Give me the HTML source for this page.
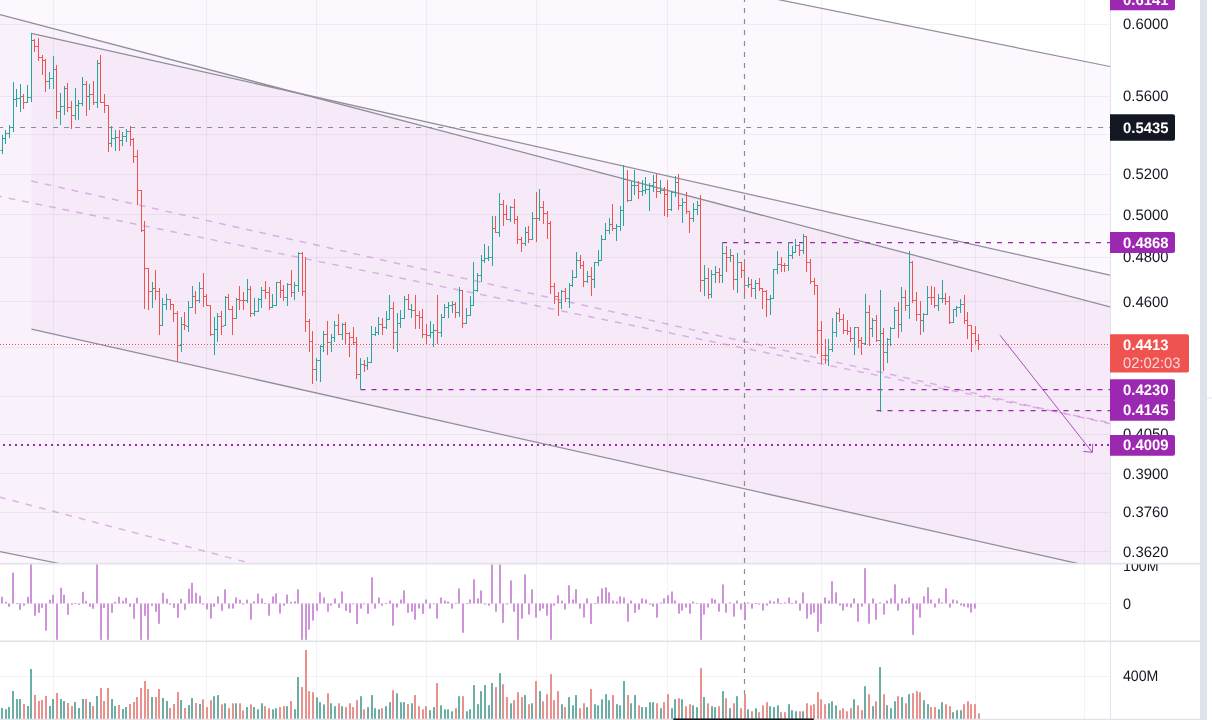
<!DOCTYPE html>
<html><head><meta charset="utf-8"><title>chart</title>
<style>html,body{margin:0;padding:0;background:#fff;overflow:hidden}body{width:1212px;height:720px;font-family:"Liberation Sans",sans-serif}</style>
</head><body>
<svg width="1212" height="720" viewBox="0 0 1212 720" style="display:block;font-family:'Liberation Sans',sans-serif">
<defs>
<clipPath id="cm"><rect x="0" y="0" width="1110.0" height="563.3000000000001"/></clipPath>
<clipPath id="co"><rect x="0" y="564.2" width="1110.0" height="76.0"/></clipPath>
<clipPath id="cv"><rect x="0" y="642" width="1110.0" height="78"/></clipPath>
</defs>
<rect width="1212" height="720" fill="#ffffff"/>
<g clip-path="url(#cm)">
<polygon points="0,-157.4 1110,66.5 1110,775.5 0,551.6" fill="rgba(156,39,176,0.032)"/>
<polygon points="0,14.6 1110,306.8 1110,1400 0,1400" fill="rgba(156,39,176,0.032)"/>
<polygon points="31.4,33.3 1110,275.2 1110,570.7 31.4,329.1" fill="rgba(156,39,176,0.032)"/>
</g>
<rect x="53" y="0" width="1" height="720" fill="rgba(50,40,70,0.06)"/>
<rect x="206" y="0" width="1" height="720" fill="rgba(50,40,70,0.06)"/>
<rect x="316" y="0" width="1" height="720" fill="rgba(50,40,70,0.06)"/>
<rect x="426" y="0" width="1" height="720" fill="rgba(50,40,70,0.06)"/>
<rect x="536" y="0" width="1" height="720" fill="rgba(50,40,70,0.06)"/>
<rect x="667" y="0" width="1" height="720" fill="rgba(50,40,70,0.06)"/>
<rect x="821" y="0" width="1" height="720" fill="rgba(50,40,70,0.06)"/>
<rect x="975" y="0" width="1" height="720" fill="rgba(50,40,70,0.06)"/>
<rect x="1084" y="0" width="1" height="720" fill="rgba(50,40,70,0.06)"/>
<rect x="0" y="24" width="1110.0" height="1" fill="rgba(50,40,70,0.06)"/>
<rect x="0" y="96" width="1110.0" height="1" fill="rgba(50,40,70,0.06)"/>
<rect x="0" y="134" width="1110.0" height="1" fill="rgba(50,40,70,0.06)"/>
<rect x="0" y="174" width="1110.0" height="1" fill="rgba(50,40,70,0.06)"/>
<rect x="0" y="214" width="1110.0" height="1" fill="rgba(50,40,70,0.06)"/>
<rect x="0" y="257" width="1110.0" height="1" fill="rgba(50,40,70,0.06)"/>
<rect x="0" y="301" width="1110.0" height="1" fill="rgba(50,40,70,0.06)"/>
<rect x="0" y="347" width="1110.0" height="1" fill="rgba(50,40,70,0.06)"/>
<rect x="0" y="396" width="1110.0" height="1" fill="rgba(50,40,70,0.06)"/>
<rect x="0" y="434" width="1110.0" height="1" fill="rgba(50,40,70,0.06)"/>
<rect x="0" y="473" width="1110.0" height="1" fill="rgba(50,40,70,0.06)"/>
<rect x="0" y="512" width="1110.0" height="1" fill="rgba(50,40,70,0.06)"/>
<rect x="0" y="551" width="1110.0" height="1" fill="rgba(50,40,70,0.06)"/>
<rect x="0" y="603" width="1110.0" height="1" fill="rgba(50,40,70,0.06)"/>
<rect x="0" y="676" width="1110.0" height="1" fill="rgba(50,40,70,0.06)"/>
<g clip-path="url(#cm)" fill="none">
<line x1="3" y1="444.9" x2="1110" y2="444.9" stroke="#9c27b0" stroke-width="2" stroke-dasharray="2 4"/>
<line x1="0" y1="-157.4" x2="1110" y2="66.5" stroke="#908e9a" stroke-width="1.2"/>
<line x1="0" y1="551.6" x2="1110" y2="775.5" stroke="#908e9a" stroke-width="1.2"/>
<line x1="0" y1="14.6" x2="1110" y2="306.8" stroke="#908e9a" stroke-width="1.3"/>
<line x1="31.4" y1="33.3" x2="1110" y2="275.2" stroke="#908e9a" stroke-width="1.3"/>
<line x1="31.4" y1="329.1" x2="1110" y2="570.7" stroke="#908e9a" stroke-width="1.3"/>
<line x1="31.4" y1="180.9" x2="1110" y2="423.8" stroke="rgba(171,71,188,0.36)" stroke-width="1.5" stroke-dasharray="6.7 7.05"/>
<line x1="0" y1="196.4" x2="1110" y2="422.8" stroke="rgba(171,71,188,0.36)" stroke-width="1.5" stroke-dasharray="6.7 7.05" stroke-dashoffset="4.9"/>
<line x1="0" y1="497.2" x2="1110" y2="790.2" stroke="rgba(171,71,188,0.36)" stroke-width="1.5" stroke-dasharray="6.7 7.05" stroke-dashoffset="1"/>
<line x1="-1.9" y1="127.5" x2="1110" y2="127.5" stroke="#8a8c96" stroke-width="1.2" stroke-dasharray="5 6"/>
<line x1="722" y1="242.5" x2="1110" y2="242.5" stroke="#9c27b0" stroke-width="1.25" stroke-dasharray="5 6"/>
<line x1="360.5" y1="389.5" x2="1110" y2="389.5" stroke="#9c27b0" stroke-width="1.25" stroke-dasharray="5 6"/>
<line x1="876.5" y1="410.5" x2="1110" y2="410.5" stroke="#9c27b0" stroke-width="1.25" stroke-dasharray="5 6"/>
<line x1="0" y1="344.5" x2="1110" y2="344.5" stroke="#ef5350" stroke-width="1" stroke-dasharray="1 2"/>
<path d="M1000 335.2 L1092.3 452.3 M1083.3 451.4 L1092.3 452.3 L1092.8 443.8" stroke="rgba(156,39,176,0.8)" stroke-width="1"/>
</g>
<g clip-path="url(#cm)">
<path d="M2.5 135V154M0.5 150.5H2.5M2.5 138.5H4.5" stroke="#26a69a" stroke-width="1" fill="none"/>
<path d="M5.5 130V144M3.5 138.5H5.5M5.5 133.5H7.5" stroke="#26a69a" stroke-width="1" fill="none"/>
<path d="M9.5 125V138M7.5 133.5H9.5M9.5 127.5H11.5" stroke="#26a69a" stroke-width="1" fill="none"/>
<path d="M13.5 82V132M11.5 127.5H13.5M13.5 99.5H15.5" stroke="#26a69a" stroke-width="1" fill="none"/>
<path d="M16.5 89V107M14.5 99.5H16.5M16.5 98.5H18.5" stroke="#26a69a" stroke-width="1" fill="none"/>
<path d="M20.5 84V112M18.5 98.5H20.5M20.5 96.5H22.5" stroke="#26a69a" stroke-width="1" fill="none"/>
<path d="M23.5 94V109M21.5 96.5H23.5M23.5 102.5H25.5" stroke="#ef5350" stroke-width="1" fill="none"/>
<path d="M27.5 85V103M25.5 102.5H27.5M27.5 97.5H29.5" stroke="#26a69a" stroke-width="1" fill="none"/>
<path d="M31.5 33V102M29.5 97.5H31.5M31.5 40.5H33.5" stroke="#26a69a" stroke-width="1" fill="none"/>
<path d="M34.5 39V52M32.5 40.5H34.5M34.5 46.5H36.5" stroke="#ef5350" stroke-width="1" fill="none"/>
<path d="M38.5 38V61M36.5 46.5H38.5M38.5 57.5H40.5" stroke="#ef5350" stroke-width="1" fill="none"/>
<path d="M42.5 55V75M40.5 57.5H42.5M42.5 60.5H44.5" stroke="#ef5350" stroke-width="1" fill="none"/>
<path d="M45.5 59V92M43.5 60.5H45.5M45.5 81.5H47.5" stroke="#ef5350" stroke-width="1" fill="none"/>
<path d="M49.5 72V89M47.5 81.5H49.5M49.5 78.5H51.5" stroke="#26a69a" stroke-width="1" fill="none"/>
<path d="M53.5 56V89M51.5 78.5H53.5M53.5 69.5H55.5" stroke="#26a69a" stroke-width="1" fill="none"/>
<path d="M56.5 65V119M54.5 69.5H56.5M56.5 111.5H58.5" stroke="#ef5350" stroke-width="1" fill="none"/>
<path d="M60.5 93V125M58.5 111.5H60.5M60.5 106.5H62.5" stroke="#26a69a" stroke-width="1" fill="none"/>
<path d="M64.5 86V115M62.5 106.5H64.5M64.5 88.5H66.5" stroke="#26a69a" stroke-width="1" fill="none"/>
<path d="M67.5 83V112M65.5 88.5H67.5M67.5 107.5H69.5" stroke="#ef5350" stroke-width="1" fill="none"/>
<path d="M71.5 101V129M69.5 107.5H71.5M71.5 115.5H73.5" stroke="#ef5350" stroke-width="1" fill="none"/>
<path d="M75.5 88V120M73.5 115.5H75.5M75.5 105.5H77.5" stroke="#26a69a" stroke-width="1" fill="none"/>
<path d="M78.5 100V120M76.5 105.5H78.5M78.5 103.5H80.5" stroke="#26a69a" stroke-width="1" fill="none"/>
<path d="M82.5 77V106M80.5 103.5H82.5M82.5 84.5H84.5" stroke="#26a69a" stroke-width="1" fill="none"/>
<path d="M86.5 81V116M84.5 84.5H86.5M86.5 96.5H88.5" stroke="#ef5350" stroke-width="1" fill="none"/>
<path d="M89.5 84V110M87.5 96.5H89.5M89.5 94.5H91.5" stroke="#26a69a" stroke-width="1" fill="none"/>
<path d="M93.5 81V105M91.5 94.5H93.5M93.5 102.5H95.5" stroke="#ef5350" stroke-width="1" fill="none"/>
<path d="M97.5 60V108M95.5 102.5H97.5M97.5 63.5H99.5" stroke="#26a69a" stroke-width="1" fill="none"/>
<path d="M100.5 55V103M98.5 63.5H100.5M100.5 102.5H102.5" stroke="#ef5350" stroke-width="1" fill="none"/>
<path d="M104.5 94V113M102.5 102.5H104.5M104.5 105.5H106.5" stroke="#ef5350" stroke-width="1" fill="none"/>
<path d="M108.5 105V152M106.5 105.5H108.5M108.5 143.5H110.5" stroke="#ef5350" stroke-width="1" fill="none"/>
<path d="M111.5 126V147M109.5 143.5H111.5M111.5 138.5H113.5" stroke="#26a69a" stroke-width="1" fill="none"/>
<path d="M115.5 130V151M113.5 138.5H115.5M115.5 137.5H117.5" stroke="#26a69a" stroke-width="1" fill="none"/>
<path d="M119.5 130V151M117.5 137.5H119.5M119.5 140.5H121.5" stroke="#ef5350" stroke-width="1" fill="none"/>
<path d="M122.5 132V146M120.5 140.5H122.5M122.5 136.5H124.5" stroke="#26a69a" stroke-width="1" fill="none"/>
<path d="M126.5 129V142M124.5 136.5H126.5M126.5 131.5H128.5" stroke="#26a69a" stroke-width="1" fill="none"/>
<path d="M130.5 126V146M128.5 131.5H130.5M130.5 139.5H132.5" stroke="#ef5350" stroke-width="1" fill="none"/>
<path d="M133.5 138V163M131.5 139.5H133.5M133.5 156.5H135.5" stroke="#ef5350" stroke-width="1" fill="none"/>
<path d="M137.5 150V205M135.5 156.5H137.5M137.5 190.5H139.5" stroke="#ef5350" stroke-width="1" fill="none"/>
<path d="M141.5 190V232M139.5 190.5H141.5M141.5 230.5H143.5" stroke="#ef5350" stroke-width="1" fill="none"/>
<path d="M144.5 221V309M142.5 230.5H144.5M144.5 268.5H146.5" stroke="#ef5350" stroke-width="1" fill="none"/>
<path d="M148.5 268V310M146.5 268.5H148.5M148.5 291.5H150.5" stroke="#ef5350" stroke-width="1" fill="none"/>
<path d="M152.5 282V308M150.5 291.5H152.5M152.5 288.5H154.5" stroke="#26a69a" stroke-width="1" fill="none"/>
<path d="M155.5 270V300M153.5 288.5H155.5M155.5 291.5H157.5" stroke="#ef5350" stroke-width="1" fill="none"/>
<path d="M159.5 288V335M157.5 291.5H159.5M159.5 325.5H161.5" stroke="#ef5350" stroke-width="1" fill="none"/>
<path d="M162.5 298V326M160.5 325.5H162.5M162.5 304.5H164.5" stroke="#26a69a" stroke-width="1" fill="none"/>
<path d="M166.5 294V310M164.5 304.5H166.5M166.5 299.5H168.5" stroke="#26a69a" stroke-width="1" fill="none"/>
<path d="M170.5 299V310M168.5 299.5H170.5M170.5 304.5H172.5" stroke="#ef5350" stroke-width="1" fill="none"/>
<path d="M173.5 304V322M171.5 304.5H173.5M173.5 313.5H175.5" stroke="#ef5350" stroke-width="1" fill="none"/>
<path d="M177.5 311V361M175.5 313.5H177.5M177.5 345.5H179.5" stroke="#ef5350" stroke-width="1" fill="none"/>
<path d="M181.5 317V352M179.5 345.5H181.5M181.5 324.5H183.5" stroke="#26a69a" stroke-width="1" fill="none"/>
<path d="M184.5 312V330M182.5 324.5H184.5M184.5 325.5H186.5" stroke="#ef5350" stroke-width="1" fill="none"/>
<path d="M188.5 301V332M186.5 326.5H188.5M188.5 307.5H190.5" stroke="#26a69a" stroke-width="1" fill="none"/>
<path d="M192.5 286V308M190.5 307.5H192.5M192.5 296.5H194.5" stroke="#26a69a" stroke-width="1" fill="none"/>
<path d="M195.5 291V314M193.5 296.5H195.5M195.5 300.5H197.5" stroke="#ef5350" stroke-width="1" fill="none"/>
<path d="M199.5 282V303M197.5 300.5H199.5M199.5 288.5H201.5" stroke="#26a69a" stroke-width="1" fill="none"/>
<path d="M203.5 273V307M201.5 288.5H203.5M203.5 296.5H205.5" stroke="#ef5350" stroke-width="1" fill="none"/>
<path d="M206.5 294V306M204.5 296.5H206.5M206.5 305.5H208.5" stroke="#ef5350" stroke-width="1" fill="none"/>
<path d="M210.5 305V336M208.5 305.5H210.5M210.5 334.5H212.5" stroke="#ef5350" stroke-width="1" fill="none"/>
<path d="M214.5 317V355M212.5 334.5H214.5M214.5 329.5H216.5" stroke="#26a69a" stroke-width="1" fill="none"/>
<path d="M217.5 313V342M215.5 329.5H217.5M217.5 316.5H219.5" stroke="#26a69a" stroke-width="1" fill="none"/>
<path d="M221.5 311V335M219.5 316.5H221.5M221.5 326.5H223.5" stroke="#ef5350" stroke-width="1" fill="none"/>
<path d="M225.5 296V326M223.5 325.5H225.5M225.5 297.5H227.5" stroke="#26a69a" stroke-width="1" fill="none"/>
<path d="M228.5 294V310M226.5 297.5H228.5M228.5 309.5H230.5" stroke="#ef5350" stroke-width="1" fill="none"/>
<path d="M232.5 306V335M230.5 309.5H232.5M232.5 318.5H234.5" stroke="#ef5350" stroke-width="1" fill="none"/>
<path d="M236.5 298V319M234.5 318.5H236.5M236.5 299.5H238.5" stroke="#26a69a" stroke-width="1" fill="none"/>
<path d="M239.5 286V310M237.5 299.5H239.5M239.5 300.5H241.5" stroke="#ef5350" stroke-width="1" fill="none"/>
<path d="M243.5 292V310M241.5 300.5H243.5M243.5 300.5H245.5" stroke="#ef5350" stroke-width="1" fill="none"/>
<path d="M247.5 279V303M245.5 300.5H247.5M247.5 289.5H249.5" stroke="#26a69a" stroke-width="1" fill="none"/>
<path d="M250.5 286V317M248.5 289.5H250.5M250.5 313.5H252.5" stroke="#ef5350" stroke-width="1" fill="none"/>
<path d="M254.5 298V316M252.5 313.5H254.5M254.5 311.5H256.5" stroke="#26a69a" stroke-width="1" fill="none"/>
<path d="M258.5 298V312M256.5 311.5H258.5M258.5 299.5H260.5" stroke="#26a69a" stroke-width="1" fill="none"/>
<path d="M261.5 287V308M259.5 299.5H261.5M261.5 290.5H263.5" stroke="#26a69a" stroke-width="1" fill="none"/>
<path d="M265.5 281V299M263.5 290.5H265.5M265.5 292.5H267.5" stroke="#ef5350" stroke-width="1" fill="none"/>
<path d="M269.5 287V310M267.5 292.5H269.5M269.5 307.5H271.5" stroke="#ef5350" stroke-width="1" fill="none"/>
<path d="M272.5 294V308M270.5 307.5H272.5M272.5 305.5H274.5" stroke="#26a69a" stroke-width="1" fill="none"/>
<path d="M276.5 282V306M274.5 305.5H276.5M276.5 282.5H278.5" stroke="#26a69a" stroke-width="1" fill="none"/>
<path d="M280.5 280V298M278.5 282.5H280.5M280.5 290.5H282.5" stroke="#ef5350" stroke-width="1" fill="none"/>
<path d="M283.5 285V301M281.5 290.5H283.5M283.5 297.5H285.5" stroke="#ef5350" stroke-width="1" fill="none"/>
<path d="M287.5 283V306M285.5 297.5H287.5M287.5 284.5H289.5" stroke="#26a69a" stroke-width="1" fill="none"/>
<path d="M291.5 270V297M289.5 284.5H291.5M291.5 292.5H293.5" stroke="#ef5350" stroke-width="1" fill="none"/>
<path d="M294.5 282V300M292.5 292.5H294.5M294.5 285.5H296.5" stroke="#26a69a" stroke-width="1" fill="none"/>
<path d="M298.5 252V292M296.5 285.5H298.5M298.5 253.5H300.5" stroke="#26a69a" stroke-width="1" fill="none"/>
<path d="M302.5 252V296M300.5 253.5H302.5M302.5 291.5H304.5" stroke="#ef5350" stroke-width="1" fill="none"/>
<path d="M305.5 257V332M303.5 291.5H305.5M305.5 321.5H307.5" stroke="#ef5350" stroke-width="1" fill="none"/>
<path d="M309.5 319V352M307.5 321.5H309.5M309.5 341.5H311.5" stroke="#ef5350" stroke-width="1" fill="none"/>
<path d="M312.5 331V384M310.5 341.5H312.5M312.5 369.5H314.5" stroke="#ef5350" stroke-width="1" fill="none"/>
<path d="M316.5 358V381M314.5 369.5H316.5M316.5 360.5H318.5" stroke="#26a69a" stroke-width="1" fill="none"/>
<path d="M320.5 345V382M318.5 360.5H320.5M320.5 346.5H322.5" stroke="#26a69a" stroke-width="1" fill="none"/>
<path d="M323.5 331V352M321.5 346.5H323.5M323.5 334.5H325.5" stroke="#26a69a" stroke-width="1" fill="none"/>
<path d="M327.5 321V355M325.5 334.5H327.5M327.5 342.5H329.5" stroke="#ef5350" stroke-width="1" fill="none"/>
<path d="M331.5 334V352M329.5 342.5H331.5M331.5 337.5H333.5" stroke="#26a69a" stroke-width="1" fill="none"/>
<path d="M334.5 321V342M332.5 337.5H334.5M334.5 325.5H336.5" stroke="#26a69a" stroke-width="1" fill="none"/>
<path d="M338.5 314V335M336.5 325.5H338.5M338.5 334.5H340.5" stroke="#ef5350" stroke-width="1" fill="none"/>
<path d="M342.5 323V340M340.5 334.5H342.5M342.5 324.5H344.5" stroke="#26a69a" stroke-width="1" fill="none"/>
<path d="M345.5 322V345M343.5 324.5H345.5M345.5 333.5H347.5" stroke="#ef5350" stroke-width="1" fill="none"/>
<path d="M349.5 332V357M347.5 333.5H349.5M349.5 337.5H351.5" stroke="#ef5350" stroke-width="1" fill="none"/>
<path d="M353.5 327V345M351.5 337.5H353.5M353.5 342.5H355.5" stroke="#ef5350" stroke-width="1" fill="none"/>
<path d="M356.5 337V379M354.5 342.5H356.5M356.5 374.5H358.5" stroke="#ef5350" stroke-width="1" fill="none"/>
<path d="M360.5 358V389M358.5 374.5H360.5M360.5 364.5H362.5" stroke="#26a69a" stroke-width="1" fill="none"/>
<path d="M364.5 360V372M362.5 364.5H364.5M364.5 365.5H366.5" stroke="#ef5350" stroke-width="1" fill="none"/>
<path d="M367.5 357V370M365.5 365.5H367.5M367.5 362.5H369.5" stroke="#26a69a" stroke-width="1" fill="none"/>
<path d="M371.5 326V363M369.5 362.5H371.5M371.5 334.5H373.5" stroke="#26a69a" stroke-width="1" fill="none"/>
<path d="M375.5 327V336M373.5 334.5H375.5M375.5 332.5H377.5" stroke="#26a69a" stroke-width="1" fill="none"/>
<path d="M378.5 317V335M376.5 332.5H378.5M378.5 324.5H380.5" stroke="#26a69a" stroke-width="1" fill="none"/>
<path d="M382.5 318V335M380.5 324.5H382.5M382.5 327.5H384.5" stroke="#ef5350" stroke-width="1" fill="none"/>
<path d="M386.5 311V329M384.5 327.5H386.5M386.5 319.5H388.5" stroke="#26a69a" stroke-width="1" fill="none"/>
<path d="M389.5 295V320M387.5 319.5H389.5M389.5 308.5H391.5" stroke="#26a69a" stroke-width="1" fill="none"/>
<path d="M393.5 302V349M391.5 308.5H393.5M393.5 332.5H395.5" stroke="#ef5350" stroke-width="1" fill="none"/>
<path d="M397.5 313V352M395.5 332.5H397.5M397.5 323.5H399.5" stroke="#26a69a" stroke-width="1" fill="none"/>
<path d="M400.5 310V328M398.5 323.5H400.5M400.5 318.5H402.5" stroke="#26a69a" stroke-width="1" fill="none"/>
<path d="M404.5 296V319M402.5 318.5H404.5M404.5 299.5H406.5" stroke="#26a69a" stroke-width="1" fill="none"/>
<path d="M408.5 294V310M406.5 299.5H408.5M408.5 309.5H410.5" stroke="#ef5350" stroke-width="1" fill="none"/>
<path d="M411.5 304V318M409.5 309.5H411.5M411.5 310.5H413.5" stroke="#26a69a" stroke-width="1" fill="none"/>
<path d="M415.5 295V329M413.5 310.5H415.5M415.5 315.5H417.5" stroke="#ef5350" stroke-width="1" fill="none"/>
<path d="M419.5 311V329M417.5 315.5H419.5M419.5 317.5H421.5" stroke="#ef5350" stroke-width="1" fill="none"/>
<path d="M422.5 309V338M420.5 317.5H422.5M422.5 334.5H424.5" stroke="#ef5350" stroke-width="1" fill="none"/>
<path d="M426.5 324V345M424.5 334.5H426.5M426.5 335.5H428.5" stroke="#ef5350" stroke-width="1" fill="none"/>
<path d="M430.5 321V338M428.5 335.5H430.5M430.5 332.5H432.5" stroke="#26a69a" stroke-width="1" fill="none"/>
<path d="M433.5 324V347M431.5 332.5H433.5M433.5 330.5H435.5" stroke="#26a69a" stroke-width="1" fill="none"/>
<path d="M437.5 295V344M435.5 330.5H437.5M437.5 332.5H439.5" stroke="#ef5350" stroke-width="1" fill="none"/>
<path d="M441.5 314V337M439.5 332.5H441.5M441.5 317.5H443.5" stroke="#26a69a" stroke-width="1" fill="none"/>
<path d="M444.5 304V318M442.5 317.5H444.5M444.5 307.5H446.5" stroke="#26a69a" stroke-width="1" fill="none"/>
<path d="M448.5 302V318M446.5 307.5H448.5M448.5 305.5H450.5" stroke="#26a69a" stroke-width="1" fill="none"/>
<path d="M452.5 301V313M450.5 305.5H452.5M452.5 304.5H454.5" stroke="#26a69a" stroke-width="1" fill="none"/>
<path d="M455.5 302V318M453.5 304.5H455.5M455.5 312.5H457.5" stroke="#ef5350" stroke-width="1" fill="none"/>
<path d="M459.5 287V317M457.5 312.5H459.5M459.5 290.5H461.5" stroke="#26a69a" stroke-width="1" fill="none"/>
<path d="M462.5 290V328M460.5 290.5H462.5M462.5 323.5H464.5" stroke="#ef5350" stroke-width="1" fill="none"/>
<path d="M466.5 308V324M464.5 323.5H466.5M466.5 315.5H468.5" stroke="#26a69a" stroke-width="1" fill="none"/>
<path d="M470.5 296V316M468.5 315.5H470.5M470.5 305.5H472.5" stroke="#26a69a" stroke-width="1" fill="none"/>
<path d="M473.5 262V306M471.5 305.5H473.5M473.5 290.5H475.5" stroke="#26a69a" stroke-width="1" fill="none"/>
<path d="M477.5 273V292M475.5 290.5H477.5M477.5 275.5H479.5" stroke="#26a69a" stroke-width="1" fill="none"/>
<path d="M481.5 255V282M479.5 275.5H481.5M481.5 260.5H483.5" stroke="#26a69a" stroke-width="1" fill="none"/>
<path d="M484.5 244V263M482.5 260.5H484.5M484.5 258.5H486.5" stroke="#26a69a" stroke-width="1" fill="none"/>
<path d="M488.5 246V261M486.5 258.5H488.5M488.5 257.5H490.5" stroke="#26a69a" stroke-width="1" fill="none"/>
<path d="M492.5 216V266M490.5 257.5H492.5M492.5 228.5H494.5" stroke="#26a69a" stroke-width="1" fill="none"/>
<path d="M495.5 216V233M493.5 228.5H495.5M495.5 232.5H497.5" stroke="#ef5350" stroke-width="1" fill="none"/>
<path d="M499.5 193V237M497.5 232.5H499.5M499.5 204.5H501.5" stroke="#26a69a" stroke-width="1" fill="none"/>
<path d="M503.5 200V226M501.5 204.5H503.5M503.5 214.5H505.5" stroke="#ef5350" stroke-width="1" fill="none"/>
<path d="M506.5 205V220M504.5 214.5H506.5M506.5 219.5H508.5" stroke="#ef5350" stroke-width="1" fill="none"/>
<path d="M510.5 206V222M508.5 219.5H510.5M510.5 207.5H512.5" stroke="#26a69a" stroke-width="1" fill="none"/>
<path d="M514.5 199V224M512.5 207.5H514.5M514.5 219.5H516.5" stroke="#ef5350" stroke-width="1" fill="none"/>
<path d="M517.5 216V244M515.5 219.5H517.5M517.5 239.5H519.5" stroke="#ef5350" stroke-width="1" fill="none"/>
<path d="M521.5 237V252M519.5 239.5H521.5M521.5 243.5H523.5" stroke="#ef5350" stroke-width="1" fill="none"/>
<path d="M525.5 227V246M523.5 243.5H525.5M525.5 232.5H527.5" stroke="#26a69a" stroke-width="1" fill="none"/>
<path d="M528.5 226V243M526.5 232.5H528.5M528.5 239.5H530.5" stroke="#ef5350" stroke-width="1" fill="none"/>
<path d="M532.5 212V240M530.5 239.5H532.5M532.5 218.5H534.5" stroke="#26a69a" stroke-width="1" fill="none"/>
<path d="M536.5 192V242M534.5 218.5H536.5M536.5 218.5H538.5" stroke="#ef5350" stroke-width="1" fill="none"/>
<path d="M539.5 189V221M537.5 218.5H539.5M539.5 207.5H541.5" stroke="#26a69a" stroke-width="1" fill="none"/>
<path d="M543.5 201V224M541.5 207.5H543.5M543.5 213.5H545.5" stroke="#ef5350" stroke-width="1" fill="none"/>
<path d="M547.5 211V239M545.5 213.5H547.5M547.5 223.5H549.5" stroke="#ef5350" stroke-width="1" fill="none"/>
<path d="M550.5 221V294M548.5 223.5H550.5M550.5 286.5H552.5" stroke="#ef5350" stroke-width="1" fill="none"/>
<path d="M554.5 283V304M552.5 286.5H554.5M554.5 296.5H556.5" stroke="#ef5350" stroke-width="1" fill="none"/>
<path d="M558.5 292V316M556.5 296.5H558.5M558.5 302.5H560.5" stroke="#ef5350" stroke-width="1" fill="none"/>
<path d="M561.5 290V309M559.5 302.5H561.5M561.5 291.5H563.5" stroke="#26a69a" stroke-width="1" fill="none"/>
<path d="M565.5 288V302M563.5 291.5H565.5M565.5 298.5H567.5" stroke="#ef5350" stroke-width="1" fill="none"/>
<path d="M569.5 283V308M567.5 298.5H569.5M569.5 285.5H571.5" stroke="#26a69a" stroke-width="1" fill="none"/>
<path d="M572.5 270V287M570.5 285.5H572.5M572.5 277.5H574.5" stroke="#26a69a" stroke-width="1" fill="none"/>
<path d="M576.5 252V278M574.5 277.5H576.5M576.5 260.5H578.5" stroke="#26a69a" stroke-width="1" fill="none"/>
<path d="M580.5 255V269M578.5 260.5H580.5M580.5 265.5H582.5" stroke="#ef5350" stroke-width="1" fill="none"/>
<path d="M583.5 261V287M581.5 265.5H583.5M583.5 281.5H585.5" stroke="#ef5350" stroke-width="1" fill="none"/>
<path d="M587.5 271V283M585.5 281.5H587.5M587.5 276.5H589.5" stroke="#26a69a" stroke-width="1" fill="none"/>
<path d="M591.5 267V296M589.5 276.5H591.5M591.5 279.5H593.5" stroke="#ef5350" stroke-width="1" fill="none"/>
<path d="M594.5 262V288M592.5 279.5H594.5M594.5 262.5H596.5" stroke="#26a69a" stroke-width="1" fill="none"/>
<path d="M598.5 250V266M596.5 262.5H598.5M598.5 260.5H600.5" stroke="#26a69a" stroke-width="1" fill="none"/>
<path d="M601.5 235V261M599.5 260.5H601.5M601.5 239.5H603.5" stroke="#26a69a" stroke-width="1" fill="none"/>
<path d="M605.5 223V240M603.5 239.5H605.5M605.5 230.5H607.5" stroke="#26a69a" stroke-width="1" fill="none"/>
<path d="M609.5 218V234M607.5 230.5H609.5M609.5 224.5H611.5" stroke="#26a69a" stroke-width="1" fill="none"/>
<path d="M612.5 204V231M610.5 224.5H612.5M612.5 228.5H614.5" stroke="#ef5350" stroke-width="1" fill="none"/>
<path d="M616.5 224V241M614.5 228.5H616.5M616.5 226.5H618.5" stroke="#26a69a" stroke-width="1" fill="none"/>
<path d="M620.5 206V231M618.5 226.5H620.5M620.5 210.5H622.5" stroke="#26a69a" stroke-width="1" fill="none"/>
<path d="M623.5 165V226M621.5 210.5H623.5M623.5 179.5H625.5" stroke="#26a69a" stroke-width="1" fill="none"/>
<path d="M627.5 170V202M625.5 179.5H627.5M627.5 200.5H629.5" stroke="#ef5350" stroke-width="1" fill="none"/>
<path d="M631.5 181V201M629.5 200.5H631.5M631.5 185.5H633.5" stroke="#26a69a" stroke-width="1" fill="none"/>
<path d="M634.5 170V195M632.5 185.5H634.5M634.5 185.5H636.5" stroke="#26a69a" stroke-width="1" fill="none"/>
<path d="M638.5 181V199M636.5 185.5H638.5M638.5 191.5H640.5" stroke="#ef5350" stroke-width="1" fill="none"/>
<path d="M642.5 180V196M640.5 191.5H642.5M642.5 190.5H644.5" stroke="#26a69a" stroke-width="1" fill="none"/>
<path d="M645.5 177V194M643.5 190.5H645.5M645.5 189.5H647.5" stroke="#26a69a" stroke-width="1" fill="none"/>
<path d="M649.5 183V211M647.5 189.5H649.5M649.5 185.5H651.5" stroke="#26a69a" stroke-width="1" fill="none"/>
<path d="M653.5 175V192M651.5 185.5H653.5M653.5 182.5H655.5" stroke="#26a69a" stroke-width="1" fill="none"/>
<path d="M656.5 174V198M654.5 182.5H656.5M656.5 191.5H658.5" stroke="#ef5350" stroke-width="1" fill="none"/>
<path d="M660.5 180V194M658.5 191.5H660.5M660.5 190.5H662.5" stroke="#26a69a" stroke-width="1" fill="none"/>
<path d="M664.5 187V216M662.5 190.5H664.5M664.5 194.5H666.5" stroke="#ef5350" stroke-width="1" fill="none"/>
<path d="M667.5 180V217M665.5 194.5H667.5M667.5 209.5H669.5" stroke="#ef5350" stroke-width="1" fill="none"/>
<path d="M671.5 191V211M669.5 209.5H671.5M671.5 192.5H673.5" stroke="#26a69a" stroke-width="1" fill="none"/>
<path d="M675.5 176V197M673.5 192.5H675.5M675.5 182.5H677.5" stroke="#26a69a" stroke-width="1" fill="none"/>
<path d="M678.5 174V210M676.5 182.5H678.5M678.5 205.5H680.5" stroke="#ef5350" stroke-width="1" fill="none"/>
<path d="M682.5 198V223M680.5 205.5H682.5M682.5 202.5H684.5" stroke="#26a69a" stroke-width="1" fill="none"/>
<path d="M686.5 192V214M684.5 202.5H686.5M686.5 211.5H688.5" stroke="#ef5350" stroke-width="1" fill="none"/>
<path d="M689.5 211V233M687.5 211.5H689.5M689.5 218.5H691.5" stroke="#ef5350" stroke-width="1" fill="none"/>
<path d="M693.5 203V222M691.5 218.5H693.5M693.5 209.5H695.5" stroke="#26a69a" stroke-width="1" fill="none"/>
<path d="M697.5 201V215M695.5 209.5H697.5M697.5 205.5H699.5" stroke="#26a69a" stroke-width="1" fill="none"/>
<path d="M700.5 195V292M698.5 205.5H700.5M700.5 280.5H702.5" stroke="#ef5350" stroke-width="1" fill="none"/>
<path d="M704.5 265V296M702.5 280.5H704.5M704.5 278.5H706.5" stroke="#26a69a" stroke-width="1" fill="none"/>
<path d="M708.5 268V299M706.5 278.5H708.5M708.5 294.5H710.5" stroke="#ef5350" stroke-width="1" fill="none"/>
<path d="M711.5 270V298M709.5 294.5H711.5M711.5 274.5H713.5" stroke="#26a69a" stroke-width="1" fill="none"/>
<path d="M715.5 266V283M713.5 274.5H715.5M715.5 272.5H717.5" stroke="#26a69a" stroke-width="1" fill="none"/>
<path d="M719.5 268V283M717.5 272.5H719.5M719.5 275.5H721.5" stroke="#ef5350" stroke-width="1" fill="none"/>
<path d="M722.5 242V283M720.5 275.5H722.5M722.5 253.5H724.5" stroke="#26a69a" stroke-width="1" fill="none"/>
<path d="M726.5 246V272M724.5 253.5H726.5M726.5 257.5H728.5" stroke="#ef5350" stroke-width="1" fill="none"/>
<path d="M730.5 249V262M728.5 257.5H730.5M730.5 255.5H732.5" stroke="#26a69a" stroke-width="1" fill="none"/>
<path d="M733.5 255V290M731.5 255.5H733.5M733.5 279.5H735.5" stroke="#ef5350" stroke-width="1" fill="none"/>
<path d="M737.5 253V293M735.5 279.5H737.5M737.5 262.5H739.5" stroke="#26a69a" stroke-width="1" fill="none"/>
<path d="M741.5 262V278M739.5 262.5H741.5M741.5 270.5H743.5" stroke="#ef5350" stroke-width="1" fill="none"/>
<path d="M744.5 259V294M742.5 270.5H744.5M744.5 285.5H746.5" stroke="#ef5350" stroke-width="1" fill="none"/>
<path d="M748.5 277V288M746.5 285.5H748.5M748.5 284.5H750.5" stroke="#26a69a" stroke-width="1" fill="none"/>
<path d="M751.5 279V297M749.5 284.5H751.5M751.5 288.5H753.5" stroke="#ef5350" stroke-width="1" fill="none"/>
<path d="M755.5 280V299M753.5 288.5H755.5M755.5 283.5H757.5" stroke="#26a69a" stroke-width="1" fill="none"/>
<path d="M759.5 278V291M757.5 283.5H759.5M759.5 288.5H761.5" stroke="#ef5350" stroke-width="1" fill="none"/>
<path d="M762.5 288V309M760.5 288.5H762.5M762.5 291.5H764.5" stroke="#ef5350" stroke-width="1" fill="none"/>
<path d="M766.5 290V317M764.5 291.5H766.5M766.5 299.5H768.5" stroke="#ef5350" stroke-width="1" fill="none"/>
<path d="M770.5 295V315M768.5 299.5H770.5M770.5 298.5H772.5" stroke="#26a69a" stroke-width="1" fill="none"/>
<path d="M773.5 269V299M771.5 298.5H773.5M773.5 269.5H775.5" stroke="#26a69a" stroke-width="1" fill="none"/>
<path d="M777.5 251V274M775.5 269.5H777.5M777.5 264.5H779.5" stroke="#26a69a" stroke-width="1" fill="none"/>
<path d="M781.5 257V272M779.5 264.5H781.5M781.5 265.5H783.5" stroke="#ef5350" stroke-width="1" fill="none"/>
<path d="M784.5 263V272M782.5 265.5H784.5M784.5 265.5H786.5" stroke="#ef5350" stroke-width="1" fill="none"/>
<path d="M788.5 242V271M786.5 265.5H788.5M788.5 255.5H790.5" stroke="#26a69a" stroke-width="1" fill="none"/>
<path d="M792.5 246V259M790.5 255.5H792.5M792.5 252.5H794.5" stroke="#26a69a" stroke-width="1" fill="none"/>
<path d="M795.5 239V253M793.5 252.5H795.5M795.5 245.5H797.5" stroke="#26a69a" stroke-width="1" fill="none"/>
<path d="M799.5 244V256M797.5 245.5H799.5M799.5 250.5H801.5" stroke="#ef5350" stroke-width="1" fill="none"/>
<path d="M803.5 234V254M801.5 250.5H803.5M803.5 236.5H805.5" stroke="#26a69a" stroke-width="1" fill="none"/>
<path d="M806.5 236V272M804.5 236.5H806.5M806.5 262.5H808.5" stroke="#ef5350" stroke-width="1" fill="none"/>
<path d="M810.5 259V284M808.5 262.5H810.5M810.5 281.5H812.5" stroke="#ef5350" stroke-width="1" fill="none"/>
<path d="M814.5 278V295M812.5 281.5H814.5M814.5 285.5H816.5" stroke="#ef5350" stroke-width="1" fill="none"/>
<path d="M817.5 285V354M815.5 285.5H817.5M817.5 330.5H819.5" stroke="#ef5350" stroke-width="1" fill="none"/>
<path d="M821.5 321V364M819.5 330.5H821.5M821.5 355.5H823.5" stroke="#ef5350" stroke-width="1" fill="none"/>
<path d="M825.5 339V364M823.5 355.5H825.5M825.5 355.5H827.5" stroke="#ef5350" stroke-width="1" fill="none"/>
<path d="M828.5 339V366M826.5 355.5H828.5M828.5 349.5H830.5" stroke="#26a69a" stroke-width="1" fill="none"/>
<path d="M832.5 318V352M830.5 349.5H832.5M832.5 332.5H834.5" stroke="#26a69a" stroke-width="1" fill="none"/>
<path d="M836.5 312V337M834.5 332.5H836.5M836.5 313.5H838.5" stroke="#26a69a" stroke-width="1" fill="none"/>
<path d="M839.5 308V322M837.5 313.5H839.5M839.5 319.5H841.5" stroke="#ef5350" stroke-width="1" fill="none"/>
<path d="M843.5 314V334M841.5 319.5H843.5M843.5 330.5H845.5" stroke="#ef5350" stroke-width="1" fill="none"/>
<path d="M847.5 320V335M845.5 330.5H847.5M847.5 331.5H849.5" stroke="#ef5350" stroke-width="1" fill="none"/>
<path d="M850.5 327V342M848.5 331.5H850.5M850.5 338.5H852.5" stroke="#ef5350" stroke-width="1" fill="none"/>
<path d="M854.5 327V355M852.5 338.5H854.5M854.5 327.5H856.5" stroke="#26a69a" stroke-width="1" fill="none"/>
<path d="M858.5 327V348M856.5 327.5H858.5M858.5 340.5H860.5" stroke="#ef5350" stroke-width="1" fill="none"/>
<path d="M861.5 337V355M859.5 340.5H861.5M861.5 343.5H863.5" stroke="#ef5350" stroke-width="1" fill="none"/>
<path d="M865.5 294V345M863.5 343.5H865.5M865.5 312.5H867.5" stroke="#26a69a" stroke-width="1" fill="none"/>
<path d="M869.5 305V346M867.5 312.5H869.5M869.5 328.5H871.5" stroke="#ef5350" stroke-width="1" fill="none"/>
<path d="M872.5 318V337M870.5 328.5H872.5M872.5 320.5H874.5" stroke="#26a69a" stroke-width="1" fill="none"/>
<path d="M876.5 315V342M874.5 320.5H876.5M876.5 340.5H878.5" stroke="#ef5350" stroke-width="1" fill="none"/>
<path d="M880.5 290V412M878.5 340.5H880.5M880.5 333.5H882.5" stroke="#26a69a" stroke-width="1" fill="none"/>
<path d="M883.5 328V371M881.5 333.5H883.5M883.5 352.5H885.5" stroke="#ef5350" stroke-width="1" fill="none"/>
<path d="M887.5 338V363M885.5 352.5H887.5M887.5 339.5H889.5" stroke="#26a69a" stroke-width="1" fill="none"/>
<path d="M890.5 327V346M888.5 339.5H890.5M890.5 328.5H892.5" stroke="#26a69a" stroke-width="1" fill="none"/>
<path d="M894.5 307V329M892.5 328.5H894.5M894.5 310.5H896.5" stroke="#26a69a" stroke-width="1" fill="none"/>
<path d="M898.5 302V338M896.5 310.5H898.5M898.5 324.5H900.5" stroke="#ef5350" stroke-width="1" fill="none"/>
<path d="M901.5 287V332M899.5 324.5H901.5M901.5 297.5H903.5" stroke="#26a69a" stroke-width="1" fill="none"/>
<path d="M905.5 290V311M903.5 297.5H905.5M905.5 305.5H907.5" stroke="#ef5350" stroke-width="1" fill="none"/>
<path d="M909.5 251V319M907.5 305.5H909.5M909.5 262.5H911.5" stroke="#26a69a" stroke-width="1" fill="none"/>
<path d="M912.5 261V303M910.5 262.5H912.5M912.5 300.5H914.5" stroke="#ef5350" stroke-width="1" fill="none"/>
<path d="M916.5 292V321M914.5 300.5H916.5M916.5 314.5H918.5" stroke="#ef5350" stroke-width="1" fill="none"/>
<path d="M920.5 301V335M918.5 314.5H920.5M920.5 320.5H922.5" stroke="#ef5350" stroke-width="1" fill="none"/>
<path d="M923.5 313V332M921.5 320.5H923.5M923.5 314.5H925.5" stroke="#26a69a" stroke-width="1" fill="none"/>
<path d="M927.5 286V315M925.5 314.5H927.5M927.5 297.5H929.5" stroke="#26a69a" stroke-width="1" fill="none"/>
<path d="M931.5 286V305M929.5 297.5H931.5M931.5 297.5H933.5" stroke="#ef5350" stroke-width="1" fill="none"/>
<path d="M934.5 287V308M932.5 297.5H934.5M934.5 305.5H936.5" stroke="#ef5350" stroke-width="1" fill="none"/>
<path d="M938.5 294V311M936.5 305.5H938.5M938.5 298.5H940.5" stroke="#26a69a" stroke-width="1" fill="none"/>
<path d="M942.5 280V303M940.5 298.5H942.5M942.5 298.5H944.5" stroke="#26a69a" stroke-width="1" fill="none"/>
<path d="M945.5 293V305M943.5 298.5H945.5M945.5 301.5H947.5" stroke="#ef5350" stroke-width="1" fill="none"/>
<path d="M949.5 296V324M947.5 301.5H949.5M949.5 322.5H951.5" stroke="#ef5350" stroke-width="1" fill="none"/>
<path d="M953.5 309V323M951.5 322.5H953.5M953.5 309.5H955.5" stroke="#26a69a" stroke-width="1" fill="none"/>
<path d="M956.5 306V317M954.5 309.5H956.5M956.5 307.5H958.5" stroke="#26a69a" stroke-width="1" fill="none"/>
<path d="M960.5 299V313M958.5 307.5H960.5M960.5 304.5H962.5" stroke="#26a69a" stroke-width="1" fill="none"/>
<path d="M964.5 295V324M962.5 304.5H964.5M964.5 320.5H966.5" stroke="#ef5350" stroke-width="1" fill="none"/>
<path d="M967.5 312V339M965.5 320.5H967.5M967.5 325.5H969.5" stroke="#ef5350" stroke-width="1" fill="none"/>
<path d="M971.5 325V352M969.5 325.5H971.5M971.5 333.5H973.5" stroke="#ef5350" stroke-width="1" fill="none"/>
<path d="M975.5 326V344M973.5 333.5H975.5M975.5 340.5H977.5" stroke="#ef5350" stroke-width="1" fill="none"/>
<path d="M978.5 334V350M976.5 340.5H978.5M978.5 344.5H980.5" stroke="#ef5350" stroke-width="1" fill="none"/>
</g>
<line x1="744.5" y1="-3" x2="744.5" y2="720" stroke="#8a8c96" stroke-width="1.2" stroke-dasharray="5 6"/>
<g clip-path="url(#co)" fill="#ce93d8">
<rect x="1" y="596.8" width="2" height="6.7"/>
<rect x="5" y="601.8" width="2" height="1.7"/>
<rect x="8" y="603.5" width="2" height="3.3"/>
<rect x="12" y="572.8" width="2" height="30.7"/>
<rect x="16" y="603.0" width="2" height="0.8"/>
<rect x="19" y="603.5" width="2" height="6.3"/>
<rect x="23" y="603.5" width="2" height="2.2"/>
<rect x="27" y="596.8" width="2" height="6.7"/>
<rect x="30" y="563.8" width="2" height="39.7"/>
<rect x="34" y="603.5" width="2" height="12.2"/>
<rect x="38" y="603.5" width="2" height="9.3"/>
<rect x="41" y="603.5" width="2" height="4.3"/>
<rect x="45" y="603.5" width="2" height="27.2"/>
<rect x="49" y="599.8" width="2" height="3.7"/>
<rect x="52" y="594.8" width="2" height="8.7"/>
<rect x="56" y="603.5" width="2" height="36.3"/>
<rect x="60" y="587.8" width="2" height="15.7"/>
<rect x="63" y="594.8" width="2" height="8.7"/>
<rect x="67" y="603.5" width="2" height="11.3"/>
<rect x="71" y="603.5" width="2" height="1.3"/>
<rect x="74" y="603.0" width="2" height="0.8"/>
<rect x="78" y="603.5" width="2" height="1.3"/>
<rect x="82" y="591.8" width="2" height="11.7"/>
<rect x="85" y="600.8" width="2" height="2.7"/>
<rect x="89" y="603.5" width="2" height="3.3"/>
<rect x="92" y="603.5" width="2" height="5.3"/>
<rect x="96" y="563.8" width="2" height="39.7"/>
<rect x="100" y="603.5" width="2" height="36.3"/>
<rect x="103" y="603.5" width="2" height="4.3"/>
<rect x="107" y="603.5" width="2" height="36.3"/>
<rect x="111" y="603.5" width="2" height="9.3"/>
<rect x="114" y="601.8" width="2" height="1.7"/>
<rect x="118" y="596.8" width="2" height="6.7"/>
<rect x="122" y="600.8" width="2" height="2.7"/>
<rect x="125" y="597.8" width="2" height="5.7"/>
<rect x="129" y="603.5" width="2" height="3.3"/>
<rect x="133" y="603.5" width="2" height="15.3"/>
<rect x="136" y="597.8" width="2" height="5.7"/>
<rect x="140" y="603.5" width="2" height="36.3"/>
<rect x="144" y="603.5" width="2" height="12.3"/>
<rect x="147" y="603.5" width="2" height="36.3"/>
<rect x="151" y="603.5" width="2" height="2.3"/>
<rect x="155" y="603.5" width="2" height="8.3"/>
<rect x="158" y="603.5" width="2" height="20.3"/>
<rect x="162" y="592.8" width="2" height="10.7"/>
<rect x="166" y="598.8" width="2" height="4.7"/>
<rect x="169" y="603.5" width="2" height="1.3"/>
<rect x="173" y="603.5" width="2" height="4.3"/>
<rect x="177" y="603.5" width="2" height="14.3"/>
<rect x="180" y="598.8" width="2" height="4.7"/>
<rect x="184" y="603.5" width="2" height="6.3"/>
<rect x="188" y="588.8" width="2" height="14.7"/>
<rect x="191" y="582.8" width="2" height="20.7"/>
<rect x="195" y="592.8" width="2" height="10.7"/>
<rect x="199" y="595.8" width="2" height="7.7"/>
<rect x="202" y="603.5" width="2" height="1.1"/>
<rect x="206" y="603.5" width="2" height="6.0"/>
<rect x="210" y="603.5" width="2" height="15.1"/>
<rect x="213" y="603.5" width="2" height="3.3"/>
<rect x="217" y="596.4" width="2" height="7.1"/>
<rect x="221" y="603.5" width="2" height="7.3"/>
<rect x="224" y="589.3" width="2" height="14.2"/>
<rect x="228" y="603.5" width="2" height="5.1"/>
<rect x="232" y="603.5" width="2" height="5.1"/>
<rect x="235" y="597.5" width="2" height="6.0"/>
<rect x="239" y="599.7" width="2" height="3.8"/>
<rect x="242" y="603.5" width="2" height="1.1"/>
<rect x="246" y="599.7" width="2" height="3.8"/>
<rect x="250" y="603.5" width="2" height="16.2"/>
<rect x="253" y="601.3" width="2" height="2.2"/>
<rect x="257" y="593.5" width="2" height="10.0"/>
<rect x="261" y="598.4" width="2" height="5.1"/>
<rect x="264" y="603.1" width="2" height="0.8"/>
<rect x="268" y="603.5" width="2" height="12.2"/>
<rect x="272" y="596.4" width="2" height="7.1"/>
<rect x="275" y="593.5" width="2" height="10.0"/>
<rect x="279" y="603.5" width="2" height="10.0"/>
<rect x="283" y="603.5" width="2" height="2.2"/>
<rect x="286" y="594.6" width="2" height="8.9"/>
<rect x="290" y="601.9" width="2" height="1.6"/>
<rect x="294" y="601.3" width="2" height="2.2"/>
<rect x="297" y="589.3" width="2" height="14.2"/>
<rect x="301" y="603.5" width="2" height="36.3"/>
<rect x="305" y="603.5" width="2" height="36.3"/>
<rect x="308" y="603.5" width="2" height="26.2"/>
<rect x="312" y="603.5" width="2" height="17.1"/>
<rect x="316" y="603.5" width="2" height="7.3"/>
<rect x="319" y="592.4" width="2" height="11.1"/>
<rect x="323" y="597.5" width="2" height="6.0"/>
<rect x="327" y="603.5" width="2" height="8.2"/>
<rect x="330" y="603.5" width="2" height="2.2"/>
<rect x="334" y="598.4" width="2" height="5.1"/>
<rect x="338" y="603.5" width="2" height="4.4"/>
<rect x="341" y="591.5" width="2" height="12.0"/>
<rect x="345" y="603.5" width="2" height="7.3"/>
<rect x="349" y="603.5" width="2" height="9.3"/>
<rect x="352" y="603.5" width="2" height="0.8"/>
<rect x="356" y="603.5" width="2" height="20.4"/>
<rect x="360" y="603.5" width="2" height="5.1"/>
<rect x="363" y="603.5" width="2" height="0.8"/>
<rect x="367" y="603.5" width="2" height="10.4"/>
<rect x="371" y="577.3" width="2" height="26.2"/>
<rect x="374" y="603.5" width="2" height="5.1"/>
<rect x="378" y="597.5" width="2" height="6.0"/>
<rect x="381" y="603.5" width="2" height="2.2"/>
<rect x="385" y="603.1" width="2" height="0.8"/>
<rect x="389" y="600.6" width="2" height="2.9"/>
<rect x="392" y="603.5" width="2" height="22.2"/>
<rect x="396" y="603.5" width="2" height="4.0"/>
<rect x="400" y="599.5" width="2" height="4.0"/>
<rect x="403" y="590.4" width="2" height="13.1"/>
<rect x="407" y="603.5" width="2" height="9.3"/>
<rect x="411" y="603.5" width="2" height="8.2"/>
<rect x="414" y="603.5" width="2" height="16.2"/>
<rect x="418" y="603.5" width="2" height="5.1"/>
<rect x="422" y="603.5" width="2" height="10.4"/>
<rect x="425" y="599.5" width="2" height="4.0"/>
<rect x="429" y="603.5" width="2" height="5.1"/>
<rect x="433" y="603.5" width="2" height="0.8"/>
<rect x="436" y="603.5" width="2" height="15.1"/>
<rect x="440" y="597.5" width="2" height="6.0"/>
<rect x="444" y="600.6" width="2" height="2.9"/>
<rect x="447" y="601.5" width="2" height="2.0"/>
<rect x="451" y="603.5" width="2" height="5.1"/>
<rect x="455" y="603.1" width="2" height="0.8"/>
<rect x="458" y="588.4" width="2" height="15.1"/>
<rect x="462" y="603.5" width="2" height="29.3"/>
<rect x="466" y="603.1" width="2" height="0.8"/>
<rect x="469" y="599.5" width="2" height="4.0"/>
<rect x="473" y="579.3" width="2" height="24.2"/>
<rect x="477" y="598.4" width="2" height="5.1"/>
<rect x="480" y="590.4" width="2" height="13.1"/>
<rect x="484" y="603.5" width="2" height="1.1"/>
<rect x="488" y="603.5" width="2" height="2.2"/>
<rect x="491" y="563.8" width="2" height="39.7"/>
<rect x="495" y="603.5" width="2" height="8.2"/>
<rect x="499" y="563.8" width="2" height="39.7"/>
<rect x="502" y="603.5" width="2" height="19.3"/>
<rect x="506" y="603.5" width="2" height="1.1"/>
<rect x="510" y="580.4" width="2" height="23.1"/>
<rect x="513" y="603.5" width="2" height="8.2"/>
<rect x="517" y="603.5" width="2" height="36.3"/>
<rect x="521" y="603.5" width="2" height="15.1"/>
<rect x="524" y="574.4" width="2" height="29.1"/>
<rect x="528" y="603.5" width="2" height="11.1"/>
<rect x="531" y="589.3" width="2" height="14.2"/>
<rect x="535" y="603.5" width="2" height="14.0"/>
<rect x="539" y="603.5" width="2" height="7.3"/>
<rect x="542" y="603.5" width="2" height="5.1"/>
<rect x="546" y="603.5" width="2" height="12.2"/>
<rect x="550" y="603.5" width="2" height="36.3"/>
<rect x="553" y="603.5" width="2" height="2.2"/>
<rect x="557" y="595.3" width="2" height="8.2"/>
<rect x="561" y="600.6" width="2" height="2.9"/>
<rect x="564" y="603.5" width="2" height="6.0"/>
<rect x="568" y="585.3" width="2" height="18.2"/>
<rect x="572" y="599.5" width="2" height="4.0"/>
<rect x="575" y="589.3" width="2" height="14.2"/>
<rect x="579" y="603.5" width="2" height="5.1"/>
<rect x="583" y="603.5" width="2" height="14.0"/>
<rect x="586" y="598.4" width="2" height="5.1"/>
<rect x="590" y="603.5" width="2" height="20.4"/>
<rect x="594" y="603.0" width="2" height="0.8"/>
<rect x="597" y="596.4" width="2" height="7.1"/>
<rect x="601" y="588.4" width="2" height="15.1"/>
<rect x="605" y="587.3" width="2" height="16.2"/>
<rect x="608" y="592.4" width="2" height="11.1"/>
<rect x="612" y="600.6" width="2" height="2.9"/>
<rect x="616" y="601.5" width="2" height="2.0"/>
<rect x="619" y="596.4" width="2" height="7.1"/>
<rect x="623" y="597.5" width="2" height="6.0"/>
<rect x="627" y="603.5" width="2" height="18.2"/>
<rect x="630" y="600.6" width="2" height="2.9"/>
<rect x="634" y="603.5" width="2" height="9.3"/>
<rect x="638" y="603.5" width="2" height="6.2"/>
<rect x="641" y="598.4" width="2" height="5.1"/>
<rect x="645" y="599.5" width="2" height="4.0"/>
<rect x="649" y="603.5" width="2" height="1.1"/>
<rect x="652" y="603.5" width="2" height="3.1"/>
<rect x="656" y="603.5" width="2" height="14.2"/>
<rect x="660" y="602.4" width="2" height="1.1"/>
<rect x="663" y="598.4" width="2" height="5.1"/>
<rect x="667" y="595.3" width="2" height="8.2"/>
<rect x="671" y="591.5" width="2" height="12.0"/>
<rect x="674" y="600.6" width="2" height="2.9"/>
<rect x="678" y="603.5" width="2" height="10.2"/>
<rect x="681" y="603.5" width="2" height="7.1"/>
<rect x="685" y="603.5" width="2" height="4.0"/>
<rect x="689" y="603.5" width="2" height="10.2"/>
<rect x="692" y="601.5" width="2" height="2.0"/>
<rect x="696" y="603.1" width="2" height="0.8"/>
<rect x="700" y="603.5" width="2" height="36.3"/>
<rect x="703" y="603.5" width="2" height="11.1"/>
<rect x="707" y="603.5" width="2" height="4.0"/>
<rect x="711" y="598.4" width="2" height="5.1"/>
<rect x="714" y="599.5" width="2" height="4.0"/>
<rect x="718" y="603.5" width="2" height="8.2"/>
<rect x="722" y="584.4" width="2" height="19.1"/>
<rect x="725" y="603.5" width="2" height="9.1"/>
<rect x="729" y="602.4" width="2" height="1.1"/>
<rect x="733" y="603.5" width="2" height="13.1"/>
<rect x="736" y="600.6" width="2" height="2.9"/>
<rect x="740" y="603.5" width="2" height="6.2"/>
<rect x="744" y="603.5" width="2" height="16.7"/>
<rect x="747" y="602.4" width="2" height="1.1"/>
<rect x="751" y="603.5" width="2" height="5.1"/>
<rect x="755" y="603.1" width="2" height="0.8"/>
<rect x="758" y="603.5" width="2" height="1.1"/>
<rect x="762" y="603.5" width="2" height="7.1"/>
<rect x="766" y="603.5" width="2" height="2.0"/>
<rect x="769" y="600.6" width="2" height="2.9"/>
<rect x="773" y="601.5" width="2" height="2.0"/>
<rect x="777" y="598.4" width="2" height="5.1"/>
<rect x="780" y="603.1" width="2" height="0.8"/>
<rect x="784" y="602.4" width="2" height="1.1"/>
<rect x="788" y="597.5" width="2" height="6.0"/>
<rect x="791" y="603.1" width="2" height="0.8"/>
<rect x="795" y="600.6" width="2" height="2.9"/>
<rect x="799" y="603.5" width="2" height="7.1"/>
<rect x="802" y="592.4" width="2" height="11.1"/>
<rect x="806" y="603.5" width="2" height="15.1"/>
<rect x="810" y="603.5" width="2" height="11.1"/>
<rect x="813" y="603.5" width="2" height="9.1"/>
<rect x="817" y="603.5" width="2" height="28.2"/>
<rect x="820" y="603.5" width="2" height="20.2"/>
<rect x="824" y="597.5" width="2" height="6.0"/>
<rect x="828" y="600.6" width="2" height="2.9"/>
<rect x="831" y="581.3" width="2" height="22.2"/>
<rect x="835" y="592.4" width="2" height="11.1"/>
<rect x="839" y="603.5" width="2" height="2.0"/>
<rect x="842" y="603.5" width="2" height="7.1"/>
<rect x="846" y="603.5" width="2" height="3.1"/>
<rect x="850" y="603.5" width="2" height="4.0"/>
<rect x="853" y="598.4" width="2" height="5.1"/>
<rect x="857" y="603.5" width="2" height="18.2"/>
<rect x="861" y="603.5" width="2" height="3.1"/>
<rect x="864" y="568.2" width="2" height="35.3"/>
<rect x="868" y="603.5" width="2" height="20.2"/>
<rect x="872" y="598.4" width="2" height="5.1"/>
<rect x="875" y="603.5" width="2" height="16.2"/>
<rect x="879" y="602.4" width="2" height="1.1"/>
<rect x="883" y="603.5" width="2" height="11.1"/>
<rect x="886" y="600.6" width="2" height="2.9"/>
<rect x="890" y="598.4" width="2" height="5.1"/>
<rect x="894" y="584.4" width="2" height="19.1"/>
<rect x="897" y="603.5" width="2" height="7.1"/>
<rect x="901" y="598.4" width="2" height="5.1"/>
<rect x="905" y="600.6" width="2" height="2.9"/>
<rect x="908" y="597.5" width="2" height="6.0"/>
<rect x="912" y="603.5" width="2" height="31.3"/>
<rect x="916" y="603.5" width="2" height="6.0"/>
<rect x="919" y="603.5" width="2" height="14.2"/>
<rect x="923" y="596.4" width="2" height="7.1"/>
<rect x="927" y="587.3" width="2" height="16.2"/>
<rect x="930" y="599.5" width="2" height="4.0"/>
<rect x="934" y="603.5" width="2" height="4.0"/>
<rect x="938" y="598.4" width="2" height="5.1"/>
<rect x="941" y="602.4" width="2" height="1.1"/>
<rect x="945" y="588.4" width="2" height="15.1"/>
<rect x="949" y="603.5" width="2" height="4.0"/>
<rect x="952" y="599.5" width="2" height="4.0"/>
<rect x="956" y="600.6" width="2" height="2.9"/>
<rect x="960" y="603.5" width="2" height="2.0"/>
<rect x="963" y="603.5" width="2" height="3.1"/>
<rect x="967" y="603.5" width="2" height="4.0"/>
<rect x="970" y="603.5" width="2" height="9.1"/>
<rect x="974" y="603.5" width="2" height="5.1"/>
</g>
<g clip-path="url(#cv)">
<rect x="1" y="708.0" width="2" height="12.0" fill="#6aaea6"/>
<rect x="5" y="709.2" width="2" height="10.8" fill="#6aaea6"/>
<rect x="8" y="707.0" width="2" height="13.0" fill="#6aaea6"/>
<rect x="12" y="691.0" width="2" height="29.0" fill="#6aaea6"/>
<rect x="16" y="699.0" width="2" height="21.0" fill="#6aaea6"/>
<rect x="19" y="699.0" width="2" height="21.0" fill="#6aaea6"/>
<rect x="23" y="704.0" width="2" height="16.0" fill="#e8918d"/>
<rect x="27" y="706.0" width="2" height="14.0" fill="#6aaea6"/>
<rect x="30" y="669.0" width="2" height="51.0" fill="#6aaea6"/>
<rect x="34" y="695.0" width="2" height="25.0" fill="#e8918d"/>
<rect x="38" y="701.0" width="2" height="19.0" fill="#e8918d"/>
<rect x="41" y="700.0" width="2" height="20.0" fill="#e8918d"/>
<rect x="45" y="696.0" width="2" height="24.0" fill="#e8918d"/>
<rect x="49" y="706.0" width="2" height="14.0" fill="#6aaea6"/>
<rect x="52" y="699.0" width="2" height="21.0" fill="#6aaea6"/>
<rect x="56" y="693.0" width="2" height="27.0" fill="#e8918d"/>
<rect x="60" y="699.0" width="2" height="21.0" fill="#6aaea6"/>
<rect x="63" y="701.0" width="2" height="19.0" fill="#6aaea6"/>
<rect x="67" y="703.0" width="2" height="17.0" fill="#e8918d"/>
<rect x="71" y="706.0" width="2" height="14.0" fill="#e8918d"/>
<rect x="74" y="702.0" width="2" height="18.0" fill="#6aaea6"/>
<rect x="78" y="708.0" width="2" height="12.0" fill="#6aaea6"/>
<rect x="82" y="699.0" width="2" height="21.0" fill="#6aaea6"/>
<rect x="85" y="699.0" width="2" height="21.0" fill="#e8918d"/>
<rect x="89" y="702.0" width="2" height="18.0" fill="#6aaea6"/>
<rect x="92" y="706.0" width="2" height="14.0" fill="#e8918d"/>
<rect x="96" y="696.0" width="2" height="24.0" fill="#6aaea6"/>
<rect x="100" y="688.0" width="2" height="32.0" fill="#e8918d"/>
<rect x="103" y="701.0" width="2" height="19.0" fill="#e8918d"/>
<rect x="107" y="688.0" width="2" height="32.0" fill="#e8918d"/>
<rect x="111" y="699.0" width="2" height="21.0" fill="#6aaea6"/>
<rect x="114" y="706.0" width="2" height="14.0" fill="#6aaea6"/>
<rect x="118" y="705.0" width="2" height="15.0" fill="#e8918d"/>
<rect x="122" y="709.0" width="2" height="11.0" fill="#6aaea6"/>
<rect x="125" y="707.0" width="2" height="13.0" fill="#6aaea6"/>
<rect x="129" y="704.0" width="2" height="16.0" fill="#e8918d"/>
<rect x="133" y="702.0" width="2" height="18.0" fill="#e8918d"/>
<rect x="136" y="697.0" width="2" height="23.0" fill="#e8918d"/>
<rect x="140" y="688.0" width="2" height="32.0" fill="#e8918d"/>
<rect x="144" y="681.0" width="2" height="39.0" fill="#e8918d"/>
<rect x="147" y="689.0" width="2" height="31.0" fill="#e8918d"/>
<rect x="151" y="697.0" width="2" height="23.0" fill="#6aaea6"/>
<rect x="155" y="697.0" width="2" height="23.0" fill="#e8918d"/>
<rect x="158" y="689.0" width="2" height="31.0" fill="#e8918d"/>
<rect x="162" y="698.0" width="2" height="22.0" fill="#6aaea6"/>
<rect x="166" y="701.0" width="2" height="19.0" fill="#6aaea6"/>
<rect x="169" y="708.0" width="2" height="12.0" fill="#e8918d"/>
<rect x="173" y="704.0" width="2" height="16.0" fill="#e8918d"/>
<rect x="177" y="692.0" width="2" height="28.0" fill="#e8918d"/>
<rect x="180" y="700.0" width="2" height="20.0" fill="#6aaea6"/>
<rect x="184" y="708.0" width="2" height="12.0" fill="#e8918d"/>
<rect x="188" y="705.0" width="2" height="15.0" fill="#6aaea6"/>
<rect x="191" y="698.0" width="2" height="22.0" fill="#6aaea6"/>
<rect x="195" y="703.0" width="2" height="17.0" fill="#e8918d"/>
<rect x="199" y="704.0" width="2" height="16.0" fill="#6aaea6"/>
<rect x="202" y="699.3" width="2" height="20.7" fill="#e8918d"/>
<rect x="206" y="707.1" width="2" height="12.9" fill="#e8918d"/>
<rect x="210" y="700.2" width="2" height="19.8" fill="#e8918d"/>
<rect x="213" y="696.2" width="2" height="23.8" fill="#6aaea6"/>
<rect x="217" y="695.1" width="2" height="24.9" fill="#6aaea6"/>
<rect x="221" y="704.4" width="2" height="15.6" fill="#e8918d"/>
<rect x="224" y="703.3" width="2" height="16.7" fill="#6aaea6"/>
<rect x="228" y="708.2" width="2" height="11.8" fill="#e8918d"/>
<rect x="232" y="703.3" width="2" height="16.7" fill="#e8918d"/>
<rect x="235" y="703.3" width="2" height="16.7" fill="#6aaea6"/>
<rect x="239" y="703.3" width="2" height="16.7" fill="#e8918d"/>
<rect x="242" y="710.4" width="2" height="9.6" fill="#e8918d"/>
<rect x="246" y="707.1" width="2" height="12.9" fill="#6aaea6"/>
<rect x="250" y="704.4" width="2" height="15.6" fill="#e8918d"/>
<rect x="253" y="707.1" width="2" height="12.9" fill="#6aaea6"/>
<rect x="257" y="709.3" width="2" height="10.7" fill="#6aaea6"/>
<rect x="261" y="703.3" width="2" height="16.7" fill="#6aaea6"/>
<rect x="264" y="706.2" width="2" height="13.8" fill="#e8918d"/>
<rect x="268" y="708.2" width="2" height="11.8" fill="#e8918d"/>
<rect x="272" y="709.3" width="2" height="10.7" fill="#6aaea6"/>
<rect x="275" y="708.2" width="2" height="11.8" fill="#6aaea6"/>
<rect x="279" y="707.1" width="2" height="12.9" fill="#e8918d"/>
<rect x="283" y="706.2" width="2" height="13.8" fill="#e8918d"/>
<rect x="286" y="706.2" width="2" height="13.8" fill="#6aaea6"/>
<rect x="290" y="701.1" width="2" height="18.9" fill="#e8918d"/>
<rect x="294" y="709.3" width="2" height="10.7" fill="#6aaea6"/>
<rect x="297" y="677.1" width="2" height="42.9" fill="#6aaea6"/>
<rect x="301" y="687.1" width="2" height="32.9" fill="#e8918d"/>
<rect x="305" y="650.0" width="2" height="70.0" fill="#e8918d"/>
<rect x="308" y="691.1" width="2" height="28.9" fill="#e8918d"/>
<rect x="312" y="692.2" width="2" height="27.8" fill="#e8918d"/>
<rect x="316" y="697.3" width="2" height="22.7" fill="#6aaea6"/>
<rect x="319" y="702.2" width="2" height="17.8" fill="#6aaea6"/>
<rect x="323" y="704.4" width="2" height="15.6" fill="#6aaea6"/>
<rect x="327" y="693.3" width="2" height="26.7" fill="#e8918d"/>
<rect x="330" y="703.3" width="2" height="16.7" fill="#6aaea6"/>
<rect x="334" y="706.2" width="2" height="13.8" fill="#6aaea6"/>
<rect x="338" y="703.3" width="2" height="16.7" fill="#e8918d"/>
<rect x="341" y="706.2" width="2" height="13.8" fill="#6aaea6"/>
<rect x="345" y="707.1" width="2" height="12.9" fill="#e8918d"/>
<rect x="349" y="703.3" width="2" height="16.7" fill="#e8918d"/>
<rect x="352" y="707.1" width="2" height="12.9" fill="#e8918d"/>
<rect x="356" y="700.2" width="2" height="19.8" fill="#e8918d"/>
<rect x="360" y="696.2" width="2" height="23.8" fill="#6aaea6"/>
<rect x="363" y="709.3" width="2" height="10.7" fill="#e8918d"/>
<rect x="367" y="707.1" width="2" height="12.9" fill="#6aaea6"/>
<rect x="371" y="695.1" width="2" height="24.9" fill="#6aaea6"/>
<rect x="374" y="708.2" width="2" height="11.8" fill="#6aaea6"/>
<rect x="378" y="709.3" width="2" height="10.7" fill="#6aaea6"/>
<rect x="381" y="708.2" width="2" height="11.8" fill="#e8918d"/>
<rect x="385" y="706.2" width="2" height="13.8" fill="#6aaea6"/>
<rect x="389" y="702.2" width="2" height="17.8" fill="#6aaea6"/>
<rect x="392" y="690.2" width="2" height="29.8" fill="#e8918d"/>
<rect x="396" y="693.3" width="2" height="26.7" fill="#6aaea6"/>
<rect x="400" y="702.2" width="2" height="17.8" fill="#6aaea6"/>
<rect x="403" y="702.2" width="2" height="17.8" fill="#6aaea6"/>
<rect x="407" y="704.0" width="2" height="16.0" fill="#e8918d"/>
<rect x="411" y="703.3" width="2" height="16.7" fill="#6aaea6"/>
<rect x="414" y="695.1" width="2" height="24.9" fill="#e8918d"/>
<rect x="418" y="706.2" width="2" height="13.8" fill="#e8918d"/>
<rect x="422" y="709.3" width="2" height="10.7" fill="#e8918d"/>
<rect x="425" y="706.2" width="2" height="13.8" fill="#e8918d"/>
<rect x="429" y="710.2" width="2" height="9.8" fill="#6aaea6"/>
<rect x="433" y="707.1" width="2" height="12.9" fill="#6aaea6"/>
<rect x="436" y="683.1" width="2" height="36.9" fill="#e8918d"/>
<rect x="440" y="705.3" width="2" height="14.7" fill="#6aaea6"/>
<rect x="444" y="709.3" width="2" height="10.7" fill="#6aaea6"/>
<rect x="447" y="709.3" width="2" height="10.7" fill="#6aaea6"/>
<rect x="451" y="711.3" width="2" height="8.7" fill="#6aaea6"/>
<rect x="455" y="708.2" width="2" height="11.8" fill="#e8918d"/>
<rect x="458" y="696.2" width="2" height="23.8" fill="#6aaea6"/>
<rect x="462" y="696.2" width="2" height="23.8" fill="#e8918d"/>
<rect x="466" y="711.3" width="2" height="8.7" fill="#6aaea6"/>
<rect x="469" y="709.3" width="2" height="10.7" fill="#6aaea6"/>
<rect x="473" y="685.1" width="2" height="34.9" fill="#6aaea6"/>
<rect x="477" y="704.2" width="2" height="15.8" fill="#6aaea6"/>
<rect x="480" y="691.1" width="2" height="28.9" fill="#6aaea6"/>
<rect x="484" y="685.1" width="2" height="34.9" fill="#6aaea6"/>
<rect x="488" y="705.3" width="2" height="14.7" fill="#6aaea6"/>
<rect x="491" y="683.1" width="2" height="36.9" fill="#6aaea6"/>
<rect x="495" y="687.1" width="2" height="32.9" fill="#e8918d"/>
<rect x="499" y="673.1" width="2" height="46.9" fill="#6aaea6"/>
<rect x="502" y="684.2" width="2" height="35.8" fill="#e8918d"/>
<rect x="506" y="697.1" width="2" height="22.9" fill="#e8918d"/>
<rect x="510" y="703.3" width="2" height="16.7" fill="#6aaea6"/>
<rect x="513" y="700.2" width="2" height="19.8" fill="#e8918d"/>
<rect x="517" y="692.2" width="2" height="27.8" fill="#e8918d"/>
<rect x="521" y="697.1" width="2" height="22.9" fill="#e8918d"/>
<rect x="524" y="695.1" width="2" height="24.9" fill="#6aaea6"/>
<rect x="528" y="704.2" width="2" height="15.8" fill="#e8918d"/>
<rect x="531" y="703.3" width="2" height="16.7" fill="#6aaea6"/>
<rect x="535" y="681.1" width="2" height="38.9" fill="#e8918d"/>
<rect x="539" y="691.1" width="2" height="28.9" fill="#6aaea6"/>
<rect x="542" y="701.3" width="2" height="18.7" fill="#e8918d"/>
<rect x="546" y="694.2" width="2" height="25.8" fill="#e8918d"/>
<rect x="550" y="674.2" width="2" height="45.8" fill="#e8918d"/>
<rect x="553" y="700.2" width="2" height="19.8" fill="#e8918d"/>
<rect x="557" y="691.1" width="2" height="28.9" fill="#e8918d"/>
<rect x="561" y="704.2" width="2" height="15.8" fill="#6aaea6"/>
<rect x="564" y="707.1" width="2" height="12.9" fill="#e8918d"/>
<rect x="568" y="697.1" width="2" height="22.9" fill="#6aaea6"/>
<rect x="572" y="705.3" width="2" height="14.7" fill="#6aaea6"/>
<rect x="575" y="695.1" width="2" height="24.9" fill="#6aaea6"/>
<rect x="579" y="708.2" width="2" height="11.8" fill="#e8918d"/>
<rect x="583" y="703.3" width="2" height="16.7" fill="#e8918d"/>
<rect x="586" y="707.1" width="2" height="12.9" fill="#6aaea6"/>
<rect x="590" y="689.1" width="2" height="30.9" fill="#e8918d"/>
<rect x="594" y="704.2" width="2" height="15.8" fill="#6aaea6"/>
<rect x="597" y="705.3" width="2" height="14.7" fill="#6aaea6"/>
<rect x="601" y="699.3" width="2" height="20.7" fill="#6aaea6"/>
<rect x="605" y="694.2" width="2" height="25.8" fill="#6aaea6"/>
<rect x="608" y="700.2" width="2" height="19.8" fill="#6aaea6"/>
<rect x="612" y="695.1" width="2" height="24.9" fill="#e8918d"/>
<rect x="616" y="704.2" width="2" height="15.8" fill="#6aaea6"/>
<rect x="619" y="705.3" width="2" height="14.7" fill="#6aaea6"/>
<rect x="623" y="681.1" width="2" height="38.9" fill="#6aaea6"/>
<rect x="627" y="695.1" width="2" height="24.9" fill="#e8918d"/>
<rect x="630" y="703.3" width="2" height="16.7" fill="#6aaea6"/>
<rect x="634" y="695.1" width="2" height="24.9" fill="#6aaea6"/>
<rect x="638" y="705.3" width="2" height="14.7" fill="#e8918d"/>
<rect x="641" y="707.1" width="2" height="12.9" fill="#6aaea6"/>
<rect x="645" y="707.1" width="2" height="12.9" fill="#6aaea6"/>
<rect x="649" y="702.2" width="2" height="17.8" fill="#6aaea6"/>
<rect x="652" y="702.2" width="2" height="17.8" fill="#6aaea6"/>
<rect x="656" y="703.3" width="2" height="16.7" fill="#e8918d"/>
<rect x="660" y="708.2" width="2" height="11.8" fill="#6aaea6"/>
<rect x="663" y="702.2" width="2" height="17.8" fill="#e8918d"/>
<rect x="667" y="694.2" width="2" height="25.8" fill="#e8918d"/>
<rect x="671" y="708.2" width="2" height="11.8" fill="#6aaea6"/>
<rect x="674" y="699.3" width="2" height="20.7" fill="#6aaea6"/>
<rect x="678" y="698.2" width="2" height="21.8" fill="#e8918d"/>
<rect x="681" y="699.3" width="2" height="20.7" fill="#6aaea6"/>
<rect x="685" y="706.2" width="2" height="13.8" fill="#e8918d"/>
<rect x="689" y="704.2" width="2" height="15.8" fill="#e8918d"/>
<rect x="692" y="705.3" width="2" height="14.7" fill="#6aaea6"/>
<rect x="696" y="707.1" width="2" height="12.9" fill="#6aaea6"/>
<rect x="700" y="668.2" width="2" height="51.8" fill="#e8918d"/>
<rect x="703" y="697.1" width="2" height="22.9" fill="#6aaea6"/>
<rect x="707" y="703.3" width="2" height="16.7" fill="#e8918d"/>
<rect x="711" y="706.2" width="2" height="13.8" fill="#6aaea6"/>
<rect x="714" y="707.1" width="2" height="12.9" fill="#6aaea6"/>
<rect x="718" y="706.2" width="2" height="13.8" fill="#e8918d"/>
<rect x="722" y="691.1" width="2" height="28.9" fill="#6aaea6"/>
<rect x="725" y="698.2" width="2" height="21.8" fill="#e8918d"/>
<rect x="729" y="708.2" width="2" height="11.8" fill="#6aaea6"/>
<rect x="733" y="703.3" width="2" height="16.7" fill="#e8918d"/>
<rect x="736" y="696.2" width="2" height="23.8" fill="#6aaea6"/>
<rect x="740" y="708.2" width="2" height="11.8" fill="#e8918d"/>
<rect x="744" y="694.2" width="2" height="25.8" fill="#e8918d"/>
<rect x="747" y="709.3" width="2" height="10.7" fill="#6aaea6"/>
<rect x="751" y="711.3" width="2" height="8.7" fill="#e8918d"/>
<rect x="755" y="708.2" width="2" height="11.8" fill="#6aaea6"/>
<rect x="758" y="712.2" width="2" height="7.8" fill="#e8918d"/>
<rect x="762" y="705.3" width="2" height="14.7" fill="#e8918d"/>
<rect x="766" y="702.2" width="2" height="17.8" fill="#e8918d"/>
<rect x="769" y="706.2" width="2" height="13.8" fill="#6aaea6"/>
<rect x="773" y="707.1" width="2" height="12.9" fill="#6aaea6"/>
<rect x="777" y="705.3" width="2" height="14.7" fill="#6aaea6"/>
<rect x="780" y="712.2" width="2" height="7.8" fill="#e8918d"/>
<rect x="784" y="712.2" width="2" height="7.8" fill="#e8918d"/>
<rect x="788" y="704.2" width="2" height="15.8" fill="#6aaea6"/>
<rect x="791" y="710.2" width="2" height="9.8" fill="#6aaea6"/>
<rect x="795" y="711.3" width="2" height="8.7" fill="#6aaea6"/>
<rect x="799" y="711.3" width="2" height="8.7" fill="#e8918d"/>
<rect x="802" y="711.3" width="2" height="8.7" fill="#6aaea6"/>
<rect x="806" y="703.3" width="2" height="16.7" fill="#e8918d"/>
<rect x="810" y="705.3" width="2" height="14.7" fill="#e8918d"/>
<rect x="813" y="704.2" width="2" height="15.8" fill="#e8918d"/>
<rect x="817" y="692.2" width="2" height="27.8" fill="#e8918d"/>
<rect x="820" y="699.3" width="2" height="20.7" fill="#e8918d"/>
<rect x="824" y="704.2" width="2" height="15.8" fill="#e8918d"/>
<rect x="828" y="703.3" width="2" height="16.7" fill="#6aaea6"/>
<rect x="831" y="701.3" width="2" height="18.7" fill="#6aaea6"/>
<rect x="835" y="705.3" width="2" height="14.7" fill="#6aaea6"/>
<rect x="839" y="710.2" width="2" height="9.8" fill="#e8918d"/>
<rect x="842" y="708.2" width="2" height="11.8" fill="#e8918d"/>
<rect x="846" y="711.3" width="2" height="8.7" fill="#e8918d"/>
<rect x="850" y="708.2" width="2" height="11.8" fill="#e8918d"/>
<rect x="853" y="699.3" width="2" height="20.7" fill="#6aaea6"/>
<rect x="857" y="705.3" width="2" height="14.7" fill="#e8918d"/>
<rect x="861" y="710.2" width="2" height="9.8" fill="#e8918d"/>
<rect x="864" y="686.2" width="2" height="33.8" fill="#6aaea6"/>
<rect x="868" y="694.2" width="2" height="25.8" fill="#e8918d"/>
<rect x="872" y="706.2" width="2" height="13.8" fill="#6aaea6"/>
<rect x="875" y="701.3" width="2" height="18.7" fill="#e8918d"/>
<rect x="879" y="667.1" width="2" height="52.9" fill="#6aaea6"/>
<rect x="883" y="694.2" width="2" height="25.8" fill="#e8918d"/>
<rect x="886" y="705.3" width="2" height="14.7" fill="#6aaea6"/>
<rect x="890" y="708.2" width="2" height="11.8" fill="#6aaea6"/>
<rect x="894" y="701.3" width="2" height="18.7" fill="#6aaea6"/>
<rect x="897" y="696.2" width="2" height="23.8" fill="#e8918d"/>
<rect x="901" y="697.1" width="2" height="22.9" fill="#6aaea6"/>
<rect x="905" y="703.3" width="2" height="16.7" fill="#e8918d"/>
<rect x="908" y="694.2" width="2" height="25.8" fill="#6aaea6"/>
<rect x="912" y="693.1" width="2" height="26.9" fill="#e8918d"/>
<rect x="916" y="691.1" width="2" height="28.9" fill="#e8918d"/>
<rect x="919" y="692.2" width="2" height="27.8" fill="#e8918d"/>
<rect x="923" y="700.2" width="2" height="19.8" fill="#6aaea6"/>
<rect x="927" y="704.2" width="2" height="15.8" fill="#6aaea6"/>
<rect x="930" y="707.1" width="2" height="12.9" fill="#e8918d"/>
<rect x="934" y="707.1" width="2" height="12.9" fill="#e8918d"/>
<rect x="938" y="709.3" width="2" height="10.7" fill="#6aaea6"/>
<rect x="941" y="702.2" width="2" height="17.8" fill="#6aaea6"/>
<rect x="945" y="704.2" width="2" height="15.8" fill="#e8918d"/>
<rect x="949" y="706.2" width="2" height="13.8" fill="#e8918d"/>
<rect x="952" y="712.2" width="2" height="7.8" fill="#6aaea6"/>
<rect x="956" y="710.2" width="2" height="9.8" fill="#6aaea6"/>
<rect x="960" y="710.2" width="2" height="9.8" fill="#6aaea6"/>
<rect x="963" y="704.2" width="2" height="15.8" fill="#e8918d"/>
<rect x="967" y="701.3" width="2" height="18.7" fill="#e8918d"/>
<rect x="970" y="704.2" width="2" height="15.8" fill="#e8918d"/>
<rect x="974" y="704.2" width="2" height="15.8" fill="#e8918d"/>
<rect x="978" y="713.3" width="2" height="6.7" fill="#e8918d"/>
</g>
<rect x="673.3" y="718.6" width="140.5" height="1.6" fill="#131722"/>
<rect x="1110.5" y="0" width="101.5" height="720" fill="#ffffff"/>
<rect x="1110.0" y="0" width="1" height="720" fill="#e0e3eb"/>
<rect x="0" y="562.9000000000001" width="1200" height="1.6" fill="#e0e3eb"/>
<rect x="0" y="640.5" width="1200" height="1.6" fill="#e0e3eb"/>
<rect x="0" y="718.7" width="1207" height="1.3" fill="#e0e3eb"/>
<rect x="673.3" y="718.6" width="140.5" height="1.6" fill="#131722"/>
<rect x="1200" y="0" width="7" height="720" fill="#e0e3eb"/>
<rect x="1207" y="0" width="5" height="720" fill="#ffffff"/>
<rect x="1207" y="397.5" width="5" height="1" fill="#e0e3eb"/>
<g style="will-change:opacity;opacity:0.999;text-rendering:geometricPrecision">
<text transform="translate(1123.0 28.70) scale(1 0.925)" font-size="16.4" fill="#131722" textLength="45.5" lengthAdjust="spacingAndGlyphs">0.6000</text>
<text transform="translate(1123.0 100.70) scale(1 0.925)" font-size="16.4" fill="#131722" textLength="45.5" lengthAdjust="spacingAndGlyphs">0.5600</text>
<text transform="translate(1123.0 139.20) scale(1 0.925)" font-size="16.4" fill="#131722" textLength="45.5" lengthAdjust="spacingAndGlyphs">0.5400</text>
<text transform="translate(1123.0 178.50) scale(1 0.925)" font-size="16.4" fill="#131722" textLength="45.5" lengthAdjust="spacingAndGlyphs">0.5200</text>
<text transform="translate(1123.0 220.30) scale(1 0.925)" font-size="16.4" fill="#131722" textLength="45.5" lengthAdjust="spacingAndGlyphs">0.5000</text>
<text transform="translate(1123.0 262.10) scale(1 0.925)" font-size="16.4" fill="#131722" textLength="45.5" lengthAdjust="spacingAndGlyphs">0.4800</text>
<text transform="translate(1123.0 306.60) scale(1 0.925)" font-size="16.4" fill="#131722" textLength="45.5" lengthAdjust="spacingAndGlyphs">0.4600</text>
<text transform="translate(1123.0 352.50) scale(1 0.925)" font-size="16.4" fill="#131722" textLength="45.5" lengthAdjust="spacingAndGlyphs">0.4400</text>
<text transform="translate(1123.0 401.10) scale(1 0.925)" font-size="16.4" fill="#131722" textLength="45.5" lengthAdjust="spacingAndGlyphs">0.4200</text>
<text transform="translate(1123.0 438.50) scale(1 0.925)" font-size="16.4" fill="#131722" textLength="45.5" lengthAdjust="spacingAndGlyphs">0.4050</text>
<text transform="translate(1123.0 478.60) scale(1 0.925)" font-size="16.4" fill="#131722" textLength="45.5" lengthAdjust="spacingAndGlyphs">0.3900</text>
<text transform="translate(1123.0 516.60) scale(1 0.925)" font-size="16.4" fill="#131722" textLength="45.5" lengthAdjust="spacingAndGlyphs">0.3760</text>
<text transform="translate(1123.0 557.30) scale(1 0.925)" font-size="16.4" fill="#131722" textLength="45.5" lengthAdjust="spacingAndGlyphs">0.3620</text>
<clipPath id="cx"><rect x="1110.5" y="564.3" width="100" height="160"/></clipPath>
<g clip-path="url(#cx)">
<text transform="translate(1123.0 570.50) scale(1 0.925)" font-size="16.4" fill="#131722" textLength="35.6" lengthAdjust="spacingAndGlyphs">100M</text>
</g>
<text transform="translate(1123.0 608.80) scale(1 0.925)" font-size="16.4" fill="#131722" textLength="8.0" lengthAdjust="spacingAndGlyphs">0</text>
<text transform="translate(1123.0 681.30) scale(1 0.925)" font-size="16.4" fill="#131722" textLength="35.4" lengthAdjust="spacingAndGlyphs">400M</text>
<path d="M1110.0 -12H1173a2 2 0 0 1 2 2V8.2a2 2 0 0 1 -2 2H1110.0Z" fill="#9c27b0"/>
<text transform="translate(1123.0 4.50) scale(1 0.925)" font-size="16.4" fill="#fff" font-weight="700" textLength="45.5" lengthAdjust="spacingAndGlyphs">0.6141</text>
<path d="M1110.0 114.2H1173a2 2 0 0 1 2 2V138.8a2 2 0 0 1 -2 2H1110.0Z" fill="#131722"/>
<text transform="translate(1123.0 132.50) scale(1 0.925)" font-size="16.4" fill="#fff" font-weight="700" textLength="45.5" lengthAdjust="spacingAndGlyphs">0.5435</text>
<path d="M1110.0 232H1173a2 2 0 0 1 2 2V251a2 2 0 0 1 -2 2H1110.0Z" fill="#9c27b0"/>
<text transform="translate(1123.0 247.50) scale(1 0.925)" font-size="16.4" fill="#fff" font-weight="700" textLength="45.5" lengthAdjust="spacingAndGlyphs">0.4868</text>
<path d="M1110.0 334.2H1187a2 2 0 0 1 2 2V370.6a2 2 0 0 1 -2 2H1110.0Z" fill="#ef5350"/>
<text transform="translate(1123.0 350.10) scale(1 0.925)" font-size="16.4" fill="#fff" font-weight="700" textLength="45.5" lengthAdjust="spacingAndGlyphs">0.4413</text>
<text transform="translate(1123.0 367.50) scale(1 0.925)" font-size="16.4" fill="#fff" fill-opacity="0.78" textLength="57.5" lengthAdjust="spacingAndGlyphs">02:02:03</text>
<path d="M1110.0 379.2H1173a2 2 0 0 1 2 2V398.2a2 2 0 0 1 -2 2H1110.0Z" fill="#9c27b0"/>
<path d="M1110.0 400H1173a2 2 0 0 1 2 2V418.8a2 2 0 0 1 -2 2H1110.0Z" fill="#9c27b0"/>
<text transform="translate(1123.0 394.60) scale(1 0.925)" font-size="16.4" fill="#fff" font-weight="700" textLength="45.5" lengthAdjust="spacingAndGlyphs">0.4230</text>
<text transform="translate(1123.0 415.40) scale(1 0.925)" font-size="16.4" fill="#fff" font-weight="700" textLength="45.5" lengthAdjust="spacingAndGlyphs">0.4145</text>
<path d="M1110.0 435H1173a2 2 0 0 1 2 2V453.8a2 2 0 0 1 -2 2H1110.0Z" fill="#9c27b0"/>
<text transform="translate(1123.0 450.40) scale(1 0.925)" font-size="16.4" fill="#fff" font-weight="700" textLength="45.5" lengthAdjust="spacingAndGlyphs">0.4009</text>
</g>
</svg>
</body></html>
